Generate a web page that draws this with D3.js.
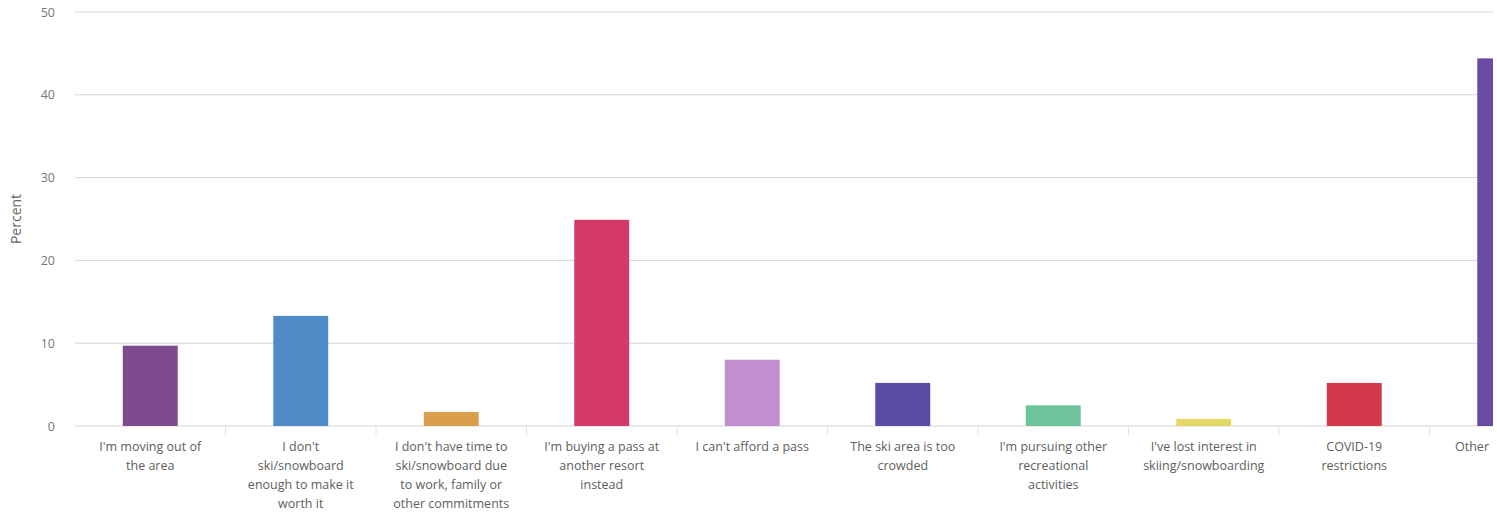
<!DOCTYPE html>
<html>
<head>
<meta charset="utf-8">
<script src="https://cdn.jsdelivr.net/npm/d3@7"></script>
<style>
  html, body { margin: 0; padding: 0; background: #fff; }
  svg { display: block; }
</style>
</head>
<body>
<svg id="chart" width="1497" height="512"></svg>
<script>
// Reasons for not renewing a season pass (percent of respondents)
const categories = [
  "I'm moving out of the area",
  "I don't ski/snowboard enough to make it worth it",
  "I don't have time to ski/snowboard due to work, family or other commitments",
  "I'm buying a pass at another resort instead",
  "I can't afford a pass",
  "The ski area is too crowded",
  "I'm pursuing other recreational activities",
  "I've lost interest in skiing/snowboarding",
  "COVID-19 restrictions",
  "Other"
];
// Wrapped label lines as displayed under each bar
const labelLines = [
  ["I'm moving out of", "the area"],
  ["I don't", "ski/snowboard", "enough to make it", "worth it"],
  ["I don't have time to", "ski/snowboard due", "to work, family or", "other commitments"],
  ["I'm buying a pass at", "another resort", "instead"],
  ["I can't afford a pass"],
  ["The ski area is too", "crowded"],
  ["I'm pursuing other", "recreational", "activities"],
  ["I've lost interest in", "skiing/snowboarding"],
  ["COVID-19", "restrictions"],
  ["Other"]
];
const percents = [9.7, 13.3, 1.7, 24.9, 8.0, 5.2, 2.5, 0.85, 5.2, 44.4];
const barColors = ["#7e4b8e", "#4f8bc7", "#d99f4a", "#d43a68", "#c18ecf", "#5b4ba6", "#6dc49a", "#e3d866", "#d23a4c", "#6b4aa3"];
const yTicks = [0, 10, 20, 30, 40, 50];

const svg = d3.select("#chart");
const margin = { left: 75, top: 12, bottom: 86 };
const height = 512;
const clipRight = 1493;
const step = 150.5;
const plotBottom = height - margin.bottom;
const font = "'Open Sans', Lato, sans-serif";

const x = d3.scaleBand()
  .domain(categories)
  .range([margin.left, margin.left + step * categories.length])
  .paddingInner(0.635)
  .paddingOuter(0.3175);

const y = d3.scaleLinear().domain([0, 50]).range([plotBottom, margin.top]);

// The plotting area is cut at the right edge of the frame
svg.append("defs").append("clipPath").attr("id", "plot-clip")
  .append("rect").attr("x", 0).attr("y", 0).attr("width", clipRight).attr("height", height);

const plot = svg.append("g").attr("clip-path", "url(#plot-clip)");

// Horizontal gridlines
plot.append("g")
  .selectAll("line")
  .data(yTicks)
  .join("line")
  .attr("x1", margin.left)
  .attr("x2", clipRight)
  .attr("y1", d => y(d))
  .attr("y2", d => y(d))
  .attr("stroke", "#d4d4d4")
  .attr("stroke-width", 1);

// Y axis labels
const yAxis = d3.axisLeft(y).tickValues(yTicks).tickSize(0).tickPadding(0);
svg.append("g")
  .attr("transform", `translate(55,0)`)
  .call(yAxis)
  .call(g => g.select(".domain").remove())
  .call(g => g.selectAll("text")
    .attr("font-family", font)
    .attr("fill", "#777")
    .attr("font-size", 12.5));

svg.append("text")
  .attr("transform", `translate(21,${(margin.top + plotBottom) / 2}) rotate(-90)`)
  .attr("text-anchor", "middle")
  .attr("font-family", font)
  .attr("font-size", 14)
  .attr("fill", "#666")
  .text("Percent");

// Category separator ticks below the baseline
const boundaries = categories.slice(1).map(c => x(c) - x.step() * x.paddingInner() / 2);
plot.append("g")
  .selectAll("line")
  .data(boundaries)
  .join("line")
  .attr("x1", d => d).attr("x2", d => d)
  .attr("y1", plotBottom).attr("y2", plotBottom + 10)
  .attr("stroke", "#e4e4e4");

// Bars
plot.append("g")
  .selectAll("rect")
  .data(categories)
  .join("rect")
  .attr("x", d => x(d))
  .attr("width", x.bandwidth())
  .attr("y", (d, i) => y(percents[i]))
  .attr("height", (d, i) => y(0) - y(percents[i]))
  .attr("fill", (d, i) => barColors[i]);

// Category labels
const labels = svg.append("g")
  .selectAll("text")
  .data(categories)
  .join("text")
  .attr("x", d => x(d) + x.bandwidth() / 2)
  .attr("y", plotBottom + 25)
  .attr("text-anchor", "middle")
  .attr("font-family", font)
  .attr("font-size", 12.5)
  .attr("fill", "#5e5e5e");
labels.selectAll("tspan")
  .data((d, i) => labelLines[i])
  .join("tspan")
  .attr("x", function () { return d3.select(this.parentNode).attr("x"); })
  .attr("dy", (d, i) => i === 0 ? 0 : 19)
  .text(d => d);

// Keep labels inside the frame: shift any that overflow the right edge
labels.each(function () {
  const box = this.getBBox();
  const over = box.x + box.width - (clipRight - 4);
  if (over > 0) {
    const nx = +d3.select(this).attr("x") - over;
    d3.select(this).attr("x", nx).selectAll("tspan").attr("x", nx);
  }
});
</script>
</body>
</html>
